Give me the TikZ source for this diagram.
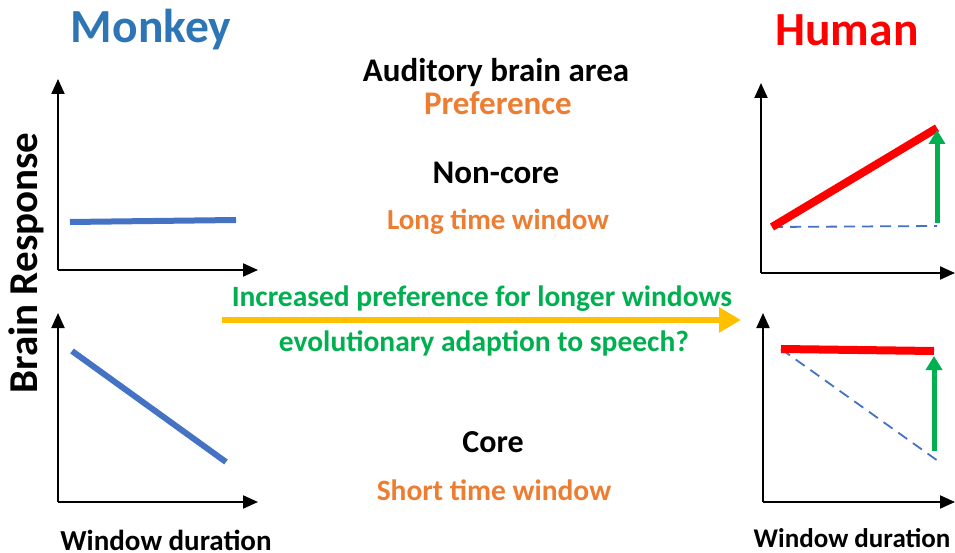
\documentclass[tikz,border=0pt]{standalone}
\usepackage{fontspec}
\setmainfont{Carlito}
\usetikzlibrary{arrows.meta}
\definecolor{mblue}{HTML}{2E75B6}
\definecolor{lblue}{HTML}{4472C4}
\definecolor{orng}{HTML}{ED7D31}
\definecolor{grn}{HTML}{00B050}
\definecolor{yel}{HTML}{FFC000}
\definecolor{hred}{HTML}{FF0000}
\tikzset{
  axis/.style={line width=2pt,-{Triangle[length=15pt,width=13pt]}},
  mline/.style={lblue,line width=6pt},
  hline/.style={hred,line width=8pt},
  dline/.style={lblue,line width=1.8pt,dash pattern=on 11pt off 7pt},
  garrow/.style={grn,line width=5pt,-{Triangle[length=14pt,width=16pt]}},
  lbl/.style={inner sep=0pt,font=\bfseries\fontsize{33}{38}\selectfont},
  sub/.style={inner sep=0pt,font=\bfseries\fontsize{29.5}{34}\selectfont},
  title/.style={inner sep=0pt,font=\bfseries\fontsize{47.5}{52}\selectfont},
}
\begin{document}
\begin{tikzpicture}[x=1pt,y=-1pt]
\useasboundingbox (0,0) rectangle (955,553);
% titles
\node[title,mblue] (monkey) at (151,30) {Monkey};
\node[title,hred] (human) at (847,30) {Human};
\node[lbl,rotate=90,font=\bfseries\fontsize{41}{46}\selectfont] (resp) at (26,263) {Brain Response};
\node[sub,anchor=base,font=\bfseries\fontsize{29}{34}\selectfont] (wdl) at (166,550) {Window duration};
\node[sub,anchor=base,font=\bfseries\fontsize{27}{32}\selectfont] (wdr) at (852,547) {Window duration};
% center texts
\node[lbl] (aud) at (496,73) {Auditory brain area};
\node[lbl,orng] (pref) at (498,103) {Preference};
\node[lbl] (noncore) at (496,173) {Non-core};
\node[sub,orng,font=\bfseries\fontsize{29}{34}\selectfont] (long) at (498,222) {Long time window};
\node[sub,grn] (incr) at (482,299) {Increased preference for longer windows};
\node[sub,grn] (evo) at (484,343) {evolutionary adaption to speech?};
\node[lbl,font=\bfseries\fontsize{32}{36}\selectfont] (core) at (493,442) {Core};
\node[sub,orng] (short) at (494,490) {Short time window};
% orange arrow
\coordinate (oa1) at (222,320);
\coordinate (oa2) at (741,320);
\draw[yel,line width=6pt,-{Triangle[length=22pt,width=24pt]}] (oa1) -- (oa2);
% top-left plot
\coordinate (tlo) at (58,270);
\coordinate (tly) at (58,79);
\coordinate (tlx) at (258,270);
\draw[axis] (tlo) -- (tly);
\draw[axis] (tlo) -- (tlx);
\coordinate (tla) at (70,222);
\coordinate (tlb) at (236,220);
\draw[mline] (tla) -- (tlb);
% bottom-left plot
\coordinate (blo) at (58,502);
\coordinate (bly) at (58,313);
\coordinate (blx) at (258,502);
\draw[axis] (blo) -- (bly);
\draw[axis] (blo) -- (blx);
\coordinate (bla) at (72,351);
\coordinate (blb) at (226,462);
\draw[mline] (bla) -- (blb);
% top-right plot
\coordinate (tro) at (761,273);
\coordinate (try) at (761,83);
\coordinate (trx) at (955,273);
\draw[axis] (tro) -- (try);
\draw[axis] (tro) -- (trx);
\coordinate (tra) at (772,227);
\coordinate (trb) at (937,226);
\coordinate (trc) at (937,128);
\draw[dline] (tra) -- (trb);
\draw[hline] (tra) -- (trc);
\coordinate (trg) at (937,223);
\coordinate (trh) at (937,130);
\draw[garrow] (trg) -- (trh);
% bottom-right plot
\coordinate (bro) at (763,502);
\coordinate (bry) at (763,313);
\coordinate (brx) at (955,502);
\draw[axis] (bro) -- (bry);
\draw[axis] (bro) -- (brx);
\coordinate (bra) at (781,349);
\coordinate (brb) at (934,351);
\coordinate (brc) at (938,461);
\draw[dline] (bra) -- (brc);
\draw[hline] (bra) -- (brb);
\coordinate (brg) at (934,451);
\coordinate (brh) at (934,356);
\draw[garrow] (brg) -- (brh);
\end{tikzpicture}
\end{document}
